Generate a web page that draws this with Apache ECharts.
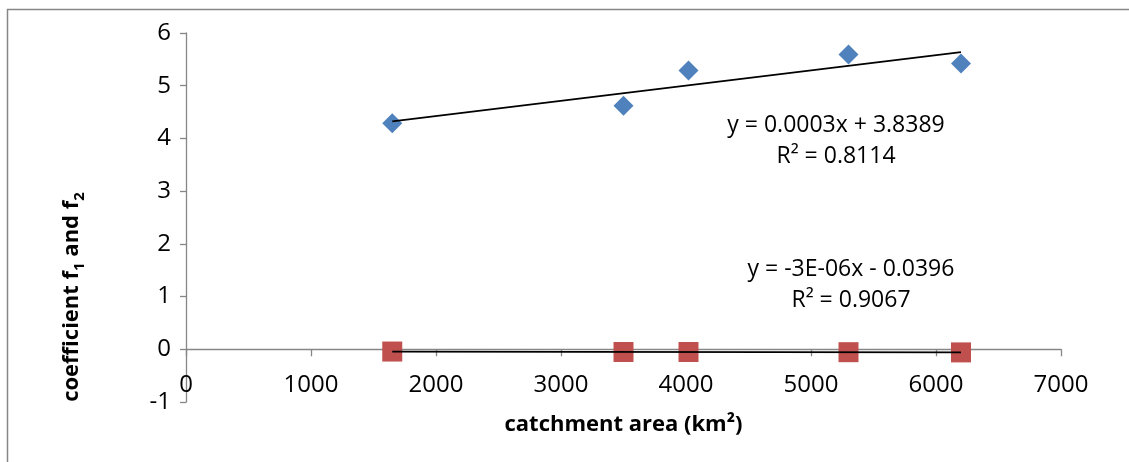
<!DOCTYPE html>
<html>
<head>
<meta charset="utf-8">
<script src="https://cdn.jsdelivr.net/npm/echarts@6/dist/echarts.min.js"></script>
<style>
  html, body { margin: 0; padding: 0; background: #fff; }
  #chart { width: 1129px; height: 462px; }
</style>
</head>
<body>
<div id="chart"></div>
<script>
// Catchment area (km²) of each basin and the fitted coefficients f1, f2
const areaKm2 = [1650, 3500, 4020, 5300, 6200];
const f1 = [4.29, 4.62, 5.29, 5.59, 5.42];
const f2 = [-0.043, -0.051, -0.052, -0.055, -0.059];

// Trendline equations as printed on the chart
const f1Equation = ['y = 0.0003x + 3.8389', 'R² = 0.8114'];
const f2Equation = ['y = -3E-06x - 0.0396', 'R² = 0.9067'];

const FONT = '"Open Sans", "Liberation Sans", sans-serif';
const AXIS_GREY = '#868686';
const Y_MIN = -1, Y_MAX = 6;

// Least-squares line through (xs, ys), returned as its two end points
function trendline(xs, ys) {
  const n = xs.length;
  const mx = xs.reduce((a, b) => a + b, 0) / n;
  const my = ys.reduce((a, b) => a + b, 0) / n;
  let sxy = 0, sxx = 0;
  for (let i = 0; i < n; i++) {
    sxy += (xs[i] - mx) * (ys[i] - my);
    sxx += (xs[i] - mx) * (xs[i] - mx);
  }
  const slope = sxy / sxx;
  const icpt = my - slope * mx;
  const x0 = Math.min(...xs), x1 = Math.max(...xs);
  return [[x0, icpt + slope * x0], [x1, icpt + slope * x1]];
}

const pairs = (xs, ys) => xs.map((x, i) => [x, ys[i]]);

const chart = echarts.init(document.getElementById('chart'), null, { renderer: 'canvas' });

chart.setOption({
  animation: false,
  backgroundColor: '#fff',
  grid: { left: 186, right: 68, top: 33, bottom: 60, containLabel: false, outerBoundsMode: 'none' },
  xAxis: {
    type: 'value',
    min: 0, max: 7000, interval: 1000,
    name: 'catchment area (km²)',
    nameLocation: 'middle',
    nameGap: 64,
    nameTextStyle: { fontFamily: FONT, fontSize: 22, fontWeight: 'bold', color: '#000' },
    axisLine: { show: true, onZero: false, lineStyle: { color: AXIS_GREY, width: 1.3 } },
    axisTick: { show: true, length: 7, lineStyle: { color: AXIS_GREY, width: 1.3 } },
    axisLabel: { fontFamily: FONT, fontSize: 24, color: '#000', margin: 24, formatter: v => String(v) },
    splitLine: { show: false }
  },
  yAxis: {
    type: 'value',
    min: Y_MIN, max: Y_MAX, interval: 1,
    axisLine: { show: true, onZero: false, lineStyle: { color: AXIS_GREY, width: 1.3 } },
    axisTick: { show: true, length: 6, lineStyle: { color: AXIS_GREY, width: 1.3 } },
    axisLabel: { fontFamily: FONT, fontSize: 24, color: '#000', margin: 15, formatter: v => String(v) },
    splitLine: { show: false }
  },
  series: [
    {
      name: 'f1',
      type: 'scatter',
      symbol: 'diamond',
      symbolSize: 20,
      itemStyle: { color: '#4F81BD', opacity: 1 },
      data: pairs(areaKm2, f1),
      z: 2
    },
    {
      name: 'f2',
      type: 'scatter',
      symbol: 'rect',
      symbolSize: 20,
      itemStyle: { color: '#C0504D', opacity: 1 },
      data: pairs(areaKm2, f2),
      z: 2
    },
    {
      name: 'f1 trend',
      type: 'line',
      showSymbol: false,
      symbol: 'none',
      lineStyle: { color: '#000', width: 1.8 },
      data: trendline(areaKm2, f1),
      z: 3
    },
    {
      name: 'f2 trend',
      type: 'line',
      showSymbol: false,
      symbol: 'none',
      lineStyle: { color: '#000', width: 1.8 },
      data: trendline(areaKm2, f2),
      z: 3
    }
  ],
  graphic: [
    // chart frame
    {
      type: 'rect',
      shape: { x: 7.5, y: 9.5, width: 1400, height: 800 },
      style: { fill: 'none', stroke: AXIS_GREY, lineWidth: 1.5 },
      silent: true
    },
    // y-axis title with subscripts
    {
      type: 'text',
      x: 68, y: 297,
      rotation: Math.PI / 2,
      style: {
        text: '{m|coefficient f}{s|1}{m| and f}{s|2}',
        align: 'center',
        verticalAlign: 'middle',
        rich: {
          m: { fontFamily: FONT, fontSize: 22, fontWeight: 'bold', fill: '#000', lineHeight: 30, verticalAlign: 'bottom' },
          s: { fontFamily: FONT, fontSize: 15, fontWeight: 'bold', fill: '#000', lineHeight: 22, verticalAlign: 'bottom', padding: [0, 0, -4, 0] }
        }
      }
    },
    // trendline equations
    {
      type: 'text',
      x: 836, y: 141,
      style: {
        text: f1Equation.join('\n'),
        fontFamily: FONT, fontSize: 23, fill: '#000',
        align: 'center', verticalAlign: 'middle', lineHeight: 31
      }
    },
    {
      type: 'text',
      x: 851, y: 285,
      style: {
        text: f2Equation.join('\n'),
        fontFamily: FONT, fontSize: 23, fill: '#000',
        align: 'center', verticalAlign: 'middle', lineHeight: 31
      }
    }
  ]
});

// The category axis crosses the value axis at y = 0: shift it up from the
// bottom of the grid by the pixel distance between y = Y_MIN and y = 0.
const yBottom = chart.convertToPixel({ yAxisIndex: 0 }, Y_MIN);
const yZero = chart.convertToPixel({ yAxisIndex: 0 }, 0);
chart.setOption({ xAxis: { offset: -(yBottom - yZero) } });
</script>
</body>
</html>
